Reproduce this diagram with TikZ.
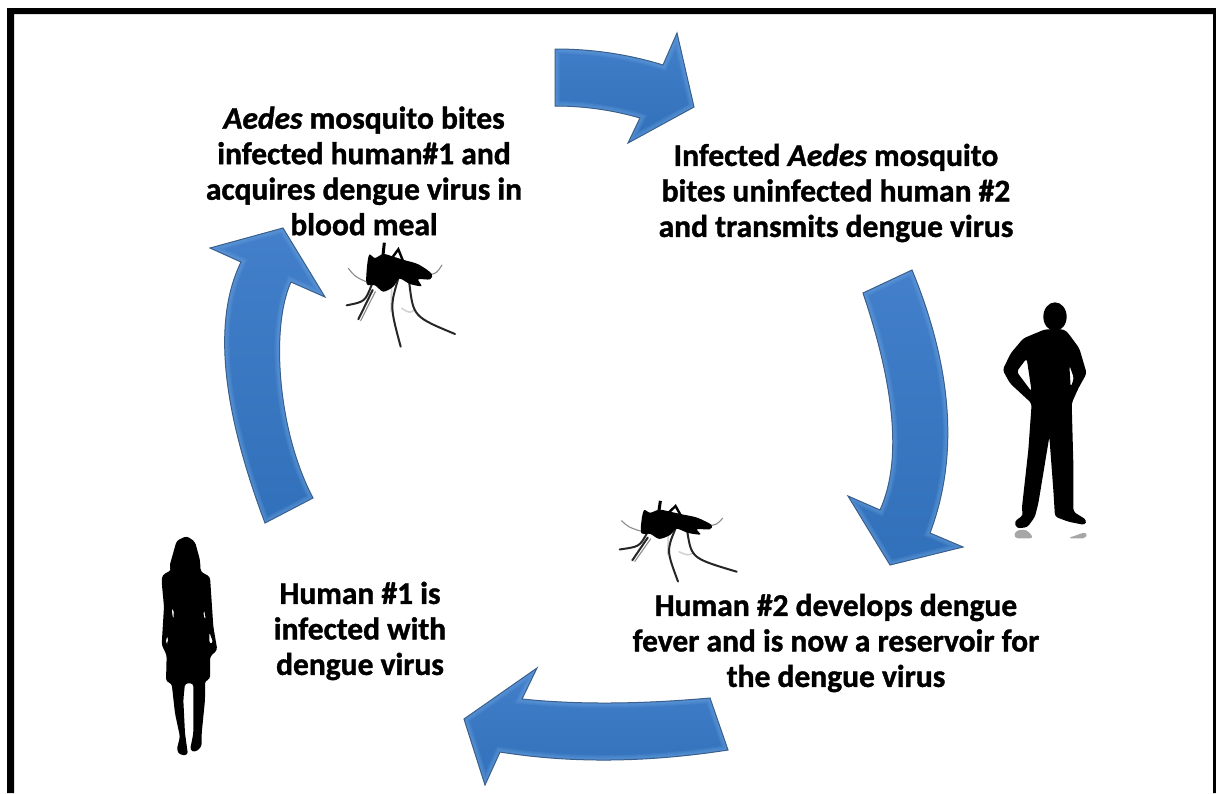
\documentclass[tikz,border=0pt]{standalone}
\usepackage{fontspec}
\setmainfont{Carlito}[BoldFeatures={FakeBold=1.2}, BoldItalicFeatures={FakeBold=1.2}]
\definecolor{arrowtop}{HTML}{437FCA}
\definecolor{arrowlow}{HTML}{3170BA}
\definecolor{arrowrim}{HTML}{6FA8E4}
\definecolor{arrowedge}{HTML}{3A5F8C}
\tikzset{
  steptext/.style={font=\bfseries\fontsize{31.5}{35.5}\selectfont, align=center, text=black},
  silhouette/.style={fill=black, even odd rule, rounded corners=3pt},
  faintleg/.style={draw=black!45, line width=1.1pt, line cap=round},
  darkleg/.style={draw=black!85, line width=2pt, line cap=round},
  paleleg/.style={draw=black!18, line width=1.5pt, line cap=round},
  pics/mosquito/.style={code={
    % legs first, body on top
    \draw[faintleg] (55,115) .. controls (75,140) .. (108,155);
    \draw[faintleg] (295,135) .. controls (320,130) .. (336,105);
    \draw[darkleg] (125,165) .. controls (105,215) .. (50,226);
    \draw[darkleg] (128,180) -- (85,268);
    \draw[faintleg] (136,185) -- (92,272);
    \draw[paleleg] (185,175) -- (183,245);
    \draw[paleleg] (215,235) .. controls (240,250) .. (256,238);
    \draw[darkleg] (205,145) .. controls (180,230) .. (212,350);
    \draw[darkleg] (238,160) .. controls (250,260) .. (375,312);
    \draw[black, line width=3pt] (158,85) -- (163,38);
    \draw[black, line width=2.4pt] (185,85) -- (205,58) -- (222,100);
    \fill[black] plot[smooth cycle] coordinates {(110,162) (111,110) (118,74) (135,84) (160,72)
      (190,80) (222,90) (265,103) (305,131) (300,148) (265,148) (274,168) (240,162) (208,146)
      (190,170) (160,185) (135,166)};
  }}
}
% block arrow with a soft bevel along its rim
\newcommand{\blockarrow}[1]{
  \shade[top color=arrowtop, bottom color=arrowlow] #1;
  \begin{scope}
    \clip #1;
    \foreach \rimw in {2,4,6,8,10}
      \draw[arrowrim, line width=\rimw pt, opacity=0.14] #1;
  \end{scope}
  \draw[arrowedge, line width=1pt] #1;
}
\begin{document}
\begin{tikzpicture}[x=1pt, y=-1pt]
\useasboundingbox (0,0) rectangle (1216,793);
\fill[white] (0,0) rectangle (1216,793);

% Frame, open at the bottom
\fill[black] (7,793) -- (7,8) -- (1216,8) -- (1216,793) -- (1213,793) -- (1213,14) -- (14,14) -- (14,793) -- cycle;

% Top arrow
\blockarrow{(555,49) .. controls (592.3,49) and (628.3,54.3) .. (663,65) -- (677,33) -- (694,107) -- (628,143) -- (640,118) .. controls (615,110.7) and (586.7,106) .. (555,106) -- cycle}

% Right arrow
\blockarrow{(863,293) -- (912,270) .. controls (952.7,369) and (958.7,457) .. (930,533) -- (963,547) -- (890,565) -- (848,496) -- (880,510) .. controls (901.7,462.3) and (895.5,389) .. (863,293) -- cycle}

% Bottom arrow
\blockarrow{(710,698) .. controls (639.3,704.3) and (576.7,704.7) .. (522,699) -- (537,668) -- (464,719) -- (485,785) -- (500,752) .. controls (570.7,763.3) and (646,762.7) .. (728,750) -- cycle}

% Left arrow
\blockarrow{(265,523) .. controls (221,406) and (213,319.7) .. (241,262) -- (210,248) -- (283,228) -- (325,297) -- (291,282) .. controls (270.3,327.3) and (277.7,431.3) .. (313,498) -- cycle}

% Step texts
\node[steptext] (bitesOne) at (364,171) {\textit{Aedes} mosquito bites\\infected human\#1 and\\acquires dengue virus in\\blood meal};
\node[steptext] (bitesTwo) at (836,193) {Infected \textit{Aedes} mosquito\\bites uninfected human \#2\\and transmits dengue virus};
\node[steptext] (reservoir) at (836,643) {Human \#2 develops dengue\\fever and is now a reservoir for\\the dengue virus};
\node[steptext] (infected) at (360,631) {Human \#1 is\\infected with\\dengue virus};

% Mosquitoes
\pic[xscale=1/3, yscale=1/3] at (330,230) {mosquito};
\pic[xscale=0.36, yscale=0.2587] at (601.7,491) {mosquito};

% Man
\begin{scope}[shift={(990,290)}, xscale=1/3, yscale=1/3]
  \fill[black] (195,80) ellipse (35 and 43);
  \fill[silhouette] (165,118) -- (100,145) -- (62,190) -- (38,240) -- (60,280) -- (125,340)
    -- (115,480) -- (95,660) -- (100,675) -- (73,695) -- (80,715) -- (112,712) -- (135,680)
    -- (145,640) -- (178,440) -- (190,600) -- (195,680) -- (235,695) -- (285,705) -- (290,690)
    -- (250,665) -- (250,520) -- (245,340) -- (265,295) -- (290,250) -- (268,175) -- (235,130)
    -- (222,118) -- cycle
    (110,205) -- (80,245) -- (125,305) -- cycle
    (238,225) -- (252,265) -- (242,292) -- cycle;
  \fill[black!35, rounded corners=4pt] (75,722) -- (110,718) -- (132,745) -- (72,745) -- cycle;
  \fill[black!35, rounded corners=4pt] (232,745) -- (290,725) -- (290,745) -- cycle;
\end{scope}

% Woman
\begin{scope}[shift={(130,520)}, xscale=1/3, yscale=1/3]
  \fill[silhouette] (125,150) -- (97,165) -- (95,185) -- (102,260) -- (95,375) -- (110,405)
    -- (108,485) -- (125,490) -- (135,580) -- (150,650) -- (140,690) -- (150,705) -- (174,705)
    -- (165,640) -- (160,540) -- (165,490) -- (190,490) -- (190,560) -- (190,640) -- (180,690)
    -- (195,697) -- (215,680) -- (215,640) -- (225,540) -- (225,482) -- (240,478) -- (240,410)
    -- (262,390) -- (250,320) -- (240,170) -- (212,155) -- (210,120) -- (195,65) -- (170,48)
    -- (140,62) -- (125,115) -- (118,140) -- cycle
    (124,265) -- (132,268) -- (130,300) -- cycle
    (222,268) -- (228,300) -- (220,290) -- cycle
    (112,345) -- (115,370) -- (106,372) -- cycle
    (238,335) -- (250,370) -- (238,372) -- cycle;
\end{scope}
\end{tikzpicture}
\end{document}
